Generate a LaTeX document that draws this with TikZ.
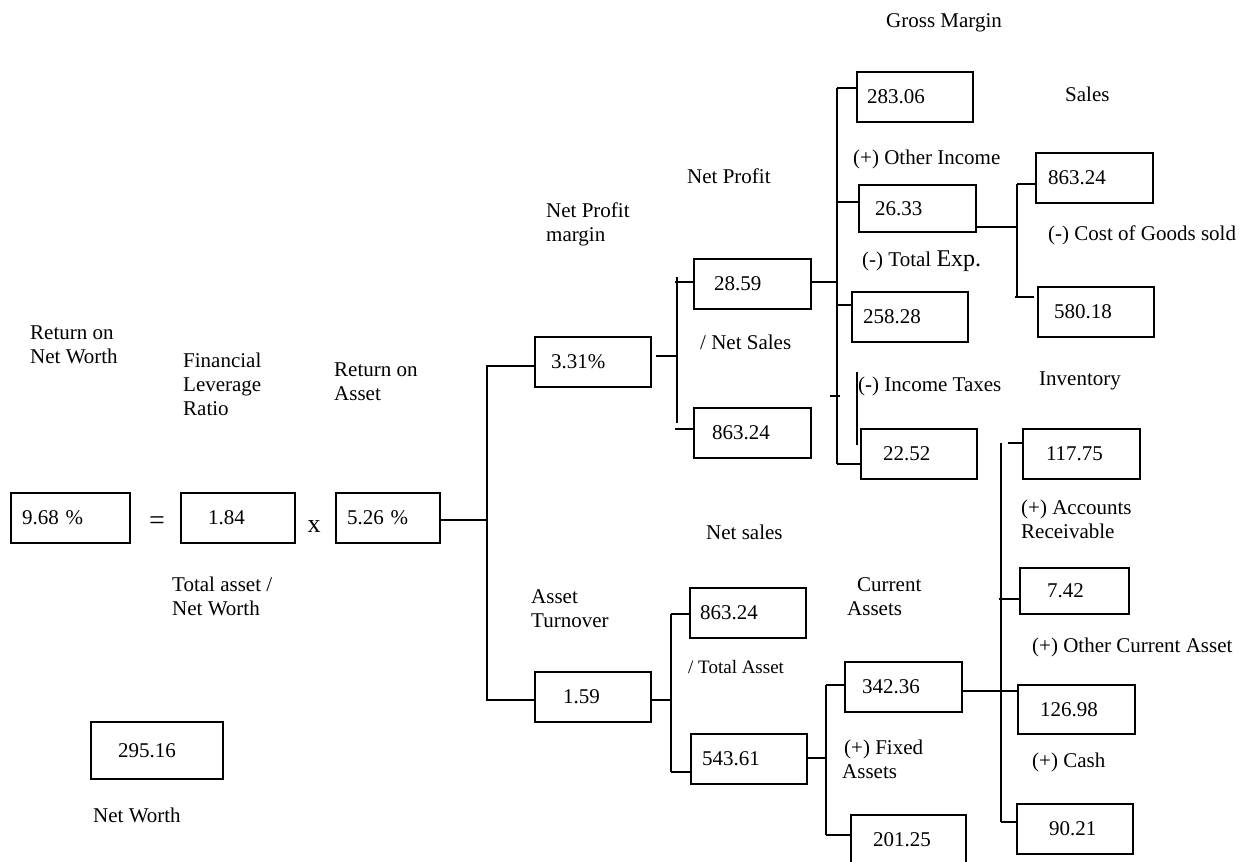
\documentclass[tikz,border=0pt]{standalone}
\usepackage{fontspec}
\setmainfont{Liberation Serif}
\begin{document}
\begin{tikzpicture}[x=1pt,y=-1pt,
  font=\fontsize{21}{24}\selectfont,
  bx/.style n args={3}{draw, line width=1.8pt, anchor=north west, outer sep=0pt,
    minimum width=#1pt, minimum height=#2pt, text width=#1pt,
    inner xsep=0pt, inner ysep=0pt, align=left,
    execute at begin node={\noindent\hspace*{#3pt}}},
  lbl/.style={anchor=west, inner sep=0pt, align=left},
  ln/.style={line width=1.6pt}]
\useasboundingbox (0,0) rectangle (1240,862);

% boxes
\node[bx={119}{50}{11}] (roe) at (11,493) {9.68 \%};
\node[bx={114}{50}{27}] (flr) at (181,493) {1.84};
\node[bx={104}{50}{11}] (roa) at (336,493) {5.26 \%};
\node[bx={132}{57}{27}] (nw) at (91,722) {295.16};
\node[bx={116}{50}{16}] (npm) at (535,337) {3.31\%};
\node[bx={117}{50}{20}] (np) at (694,259) {28.59};
\node[bx={117}{50}{18}] (ns1) at (694,408) {863.24};
\node[bx={116}{50}{10}] (gm) at (857,72) {283.06};
\node[bx={117}{47}{16}] (oi) at (859,185) {26.33};
\node[bx={116}{50}{11}] (te) at (852,292) {258.28};
\node[bx={116}{50}{22}] (it) at (861,429) {22.52};
\node[bx={117}{50}{12}] (sal) at (1036,153) {863.24};
\node[bx={116}{50}{16}] (cogs) at (1038,287) {580.18};
\node[bx={116}{50}{28}] (at) at (535,672) {1.59};
\node[bx={116}{50}{10}] (ns2) at (690,588) {863.24};
\node[bx={116}{50}{11}] (ta) at (691,734) {543.61};
\node[bx={117}{50}{17}] (ca) at (845,662) {342.36};
\node[bx={115}{50}{22}] (fa) at (851,815) {201.25};
\node[bx={117}{50}{23}] (inv) at (1023,429) {117.75};
\node[bx={109}{46}{27}] (ar) at (1020,568) {7.42};
\node[bx={117}{49}{22}] (oca) at (1018,685) {126.98};
\node[bx={116}{50}{32}] (cash) at (1017,804) {90.21};

% labels
\node[lbl] (lgm) at (886,23) {Gross Margin};
\node[lbl] (lsal) at (1065,94) {Sales};
\node[lbl] (loi) at (853,159) {(+) Other Income};
\node[lbl] (lnp) at (687,176) {Net Profit};
\node[lbl] (lnpm) at (546,224) {Net Profit\\margin};
\node[lbl] (lcogs) at (1048,235) {(-) Cost of Goods sold};
\node[lbl] (lte) at (862,261) {(-) Total {\fontsize{24}{24}\selectfont Exp.}};
\node[lbl] (lns) at (700,342) {/ Net Sales};
\node[lbl] (lroe) at (30,345) {Return on\\Net Worth};
\node[lbl] (lflr) at (183,384) {Financial\\Leverage\\Ratio};
\node[lbl] (lroa) at (334,382) {Return on\\Asset};
\node[lbl] (linv) at (1039,381) {Inventory};
\node[lbl] (lit) at (858,386) {(-) Income Taxes};
\node[lbl] (lar) at (1021,519) {(+) Accounts\\Receivable};
\node[font=\fontsize{28}{28}\selectfont, inner sep=0pt] (eq) at (157,523) {=};
\node[font=\fontsize{26}{26}\selectfont, inner sep=0pt] (times) at (314,527) {x};
\node[lbl] (lnsales) at (706,532) {Net sales};
\node[lbl] (ltanw) at (172,596) {Total asset /\\Net Worth};
\node[lbl] (lat) at (531,609) {Asset\\Turnover};
\node[lbl] (lca) at (847,597) {\hspace*{10pt}Current\\Assets};
\node[lbl] (loca) at (1032,647) {(+) Other Current Asset};
\node[lbl, font=\fontsize{19}{22}\selectfont] (lta) at (688,667) {/ Total Asset};
\node[lbl] (lfa) at (842,759) {\hspace*{2pt}(+) Fixed\\Assets};
\node[lbl] (lcash) at (1032,762) {(+) Cash};
\node[lbl] (lnw) at (93,815) {Net Worth};

% junction coordinates
\coordinate (jA) at (487,520);
\coordinate (v1t) at (677,277);
\coordinate (v1b) at (677,423);
\coordinate (v2t) at (837,88);
\coordinate (v2b) at (837,464);
\coordinate (tk) at (830,396);
\coordinate (v3t) at (857,372);
\coordinate (v4t) at (1017,184);
\coordinate (v4b) at (1017,297);
\coordinate (v5t) at (671,614);
\coordinate (v5b) at (671,772);
\coordinate (v6t) at (826,685);
\coordinate (v6b) at (826,835);
\coordinate (v7t) at (1001,443);
\coordinate (v7b) at (1001,822);

% connectors
\draw[ln] ([yshift=-2pt]roa.east) -- (jA);
\draw[ln] ([yshift=-4pt]npm.west) -| (jA) |- ([yshift=-3pt]at.west);

\draw[ln] ([xshift=5pt,yshift=6pt]npm.east) -- ++(20,0);
\draw[ln] (v1t) -- (v1b);
\draw[ln] ([xshift=-19pt,yshift=2pt]np.west) -- ([yshift=2pt]np.west);
\draw[ln] ([xshift=-19pt,yshift=4pt]ns1.west) -- ([yshift=4pt]ns1.west);

\draw[ln] ([yshift=2pt]np.east) -- ++(26,0);
\draw[ln] (v2t) -- (v2b);
\draw[ln] (v2t) -- ([yshift=9pt]gm.west);
\draw[ln] ([yshift=6.5pt]oi.west) -- ++(-22,0);
\draw[ln] ([yshift=12pt]te.west) -- ++(-15,0);
\draw[ln] (v2b) -- ([yshift=-10pt]it.west);
\draw[ln] (tk) -- ++(10,0);
\draw[ln] (v3t) -- ++(0,73);

\draw[ln] ([yshift=-18.5pt]oi.east) -- ++(41,0);
\draw[ln] (v4t) -- (v4b);
\draw[ln] (v4t) -- ([yshift=-6pt]sal.west);
\draw[ln] ([xshift=-2pt]v4b) -- ([xshift=-4pt,yshift=15pt]cogs.west);

\draw[ln] ([yshift=-3pt]at.east) -- ++(20,0);
\draw[ln] (v5t) -- (v5b);
\draw[ln] (v5t) -- ([yshift=-1pt]ns2.west);
\draw[ln] (v5b) -- ([yshift=-13pt]ta.west);

\draw[ln] ([yshift=1pt]ta.east) -- ++(19,0);
\draw[ln] (v6t) -- (v6b);
\draw[ln] (v6t) -- ([yshift=2pt]ca.west);
\draw[ln] (v6b) -- ([yshift=5pt]fa.west);

\draw[ln] ([yshift=-4pt]ca.east) -- ++(56,0);
\draw[ln] (v7t) -- (v7b);
\draw[ln] ([xshift=-15pt,yshift=11pt]inv.west) -- ([yshift=11pt]inv.west);
\draw[ln] ([xshift=-21pt,yshift=-8pt]ar.west) -- ([yshift=-8pt]ar.west);
\draw[ln] (v7b) -- ([yshift=7pt]cash.west);
\end{tikzpicture}
\end{document}
